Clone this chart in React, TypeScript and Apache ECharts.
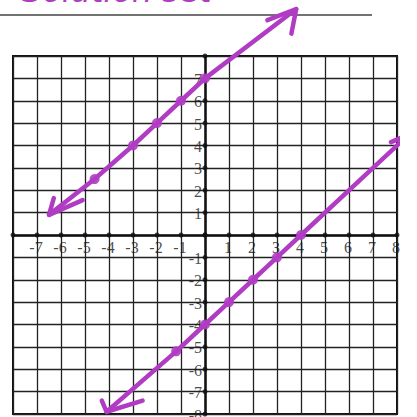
import React, { useEffect, useRef } from "react";
import * as echarts from "echarts";

// Axis range of the graph paper
const axisMin = -8;
const axisMax = 8;
const tickValues = [-8, -7, -6, -5, -4, -3, -2, -1, 0, 1, 2, 3, 4, 5, 6, 7, 8];
// Numbers written along each axis
const xTickLabels = [-7, -6, -5, -4, -3, -2, -1, 1, 2, 3, 4, 5, 6, 7, 8];
const yTickLabels = [7, 6, 5, 4, 3, 2, 1, -1, -2, -3, -4, -5, -6, -7, -8];

// Upper line (y = x + 7), hand-drawn path from arrow tip to arrow tip
const upperLine: [number, number][] = [
  [-6.5, 0.9], [-4.6, 2.5], [-3, 4], [-2, 5], [-1, 6], [0, 7], [3.8, 10.1],
];
const upperDots: [number, number][] = [
  [-4.6, 2.5], [-3, 4], [-2, 5], [-1, 6], [0, 7],
];
const upperHeadTop: [number, number][] = [[2.6, 9.6], [3.8, 10.1], [3.6, 9.0]];
const upperHeadBottom: [number, number][] = [[-6.3, 1.65], [-6.5, 0.9], [-5.1, 1.56]];

// Lower line (y = x - 4)
const lowerLine: [number, number][] = [
  [-4.1, -7.9], [-1.2, -5.2], [0, -4], [1, -3], [2, -2], [3, -1], [4, 0], [8.5, 4.5],
];
const lowerDots: [number, number][] = [
  [-1.2, -5.2], [0, -4], [1, -3], [2, -2], [3, -1], [4, 0],
];
const lowerHeadTop: [number, number][] = [[7.75, 4.15], [8.5, 4.5], [8.7, 3.7]];
const lowerHeadBottom: [number, number][] = [[-4.3, -7.4], [-4.1, -7.9], [-2.6, -7.4]];

const ink = "#b03cc4";

export default function App() {
  const ref = useRef<HTMLDivElement>(null);

  useEffect(() => {
    if (!ref.current) return;
    const chart = echarts.init(ref.current, undefined, { renderer: "svg" });

    const strokeSeries = (data: [number, number][]) => ({
      type: "line",
      data,
      clip: false,
      symbol: "none",
      z: 5,
      lineStyle: { color: ink, width: 4.5, cap: "round", join: "round" },
    });

    const dotSeries = (data: [number, number][]) => ({
      type: "scatter",
      data,
      clip: false,
      symbolSize: 10,
      z: 6,
      itemStyle: { color: ink, opacity: 0.9 },
    });

    const axisTickDots: [number, number][] = [
      ...tickValues.map((v) => [v, 0] as [number, number]),
      ...tickValues.map((v) => [0, v] as [number, number]),
    ];

    const labelFont = {
      fontFamily: "Liberation Serif",
      fontSize: 16,
      color: "#1a1a1a",
    };

    chart.setOption({
      animation: false,
      backgroundColor: "#ffffff",
      grid: {
        left: 13,
        right: 20,
        top: 56,
        bottom: 3,
        show: true,
        borderColor: "#111",
        borderWidth: 2,
        backgroundColor: "transparent",
      },
      xAxis: {
        type: "value",
        min: axisMin,
        max: axisMax,
        interval: 1,
        axisLine: { onZero: true, lineStyle: { color: "#111", width: 2.5 } },
        axisTick: { show: false },
        axisLabel: { show: false },
        splitLine: { show: true, lineStyle: { color: "#222", width: 1.3 } },
      },
      yAxis: {
        type: "value",
        min: axisMin,
        max: axisMax,
        interval: 1,
        axisLine: { onZero: true, lineStyle: { color: "#111", width: 2.5 } },
        axisTick: { show: false },
        axisLabel: { show: false },
        splitLine: { show: true, lineStyle: { color: "#222", width: 1.3 } },
      },
      graphic: [
        {
          type: "line",
          z: 0,
          shape: { x1: 0, y1: 15, x2: 372, y2: 15 },
          style: { stroke: "#444", lineWidth: 1.5 },
        },
        {
          type: "text",
          z: 0,
          left: 22,
          top: -25,
          style: {
            text: "Solution set",
            fill: ink,
            font: "italic 32px 'DejaVu Sans'",
          },
        },
      ],
      series: [
        {
          type: "scatter",
          data: axisTickDots,
          symbolSize: 5,
          z: 3,
          itemStyle: { color: "#111" },
        },
        {
          type: "scatter",
          data: xTickLabels.map((v) => [v, 0]),
          symbolSize: 0,
          clip: false,
          z: 4,
          label: {
            show: true,
            position: "bottom",
            distance: 4,
            offset: [-1, 0],
            ...labelFont,
            formatter: (p: any) => String(p.value[0]),
          },
        },
        {
          type: "scatter",
          data: yTickLabels.map((v) => [0, v]),
          symbolSize: 0,
          clip: false,
          z: 4,
          label: {
            show: true,
            position: "left",
            distance: 3,
            offset: [0, 1],
            ...labelFont,
            formatter: (p: any) => String(p.value[1]),
          },
        },
        strokeSeries(upperLine),
        strokeSeries(upperHeadTop),
        strokeSeries(upperHeadBottom),
        dotSeries(upperDots),
        strokeSeries(lowerLine),
        strokeSeries(lowerHeadTop),
        strokeSeries(lowerHeadBottom),
        dotSeries(lowerDots),
      ],
    });

    return () => chart.dispose();
  }, []);

  return (
    <div
      ref={ref}
      style={{ position: "fixed", left: 0, top: 0, width: 417, height: 417 }}
    />
  );
}
